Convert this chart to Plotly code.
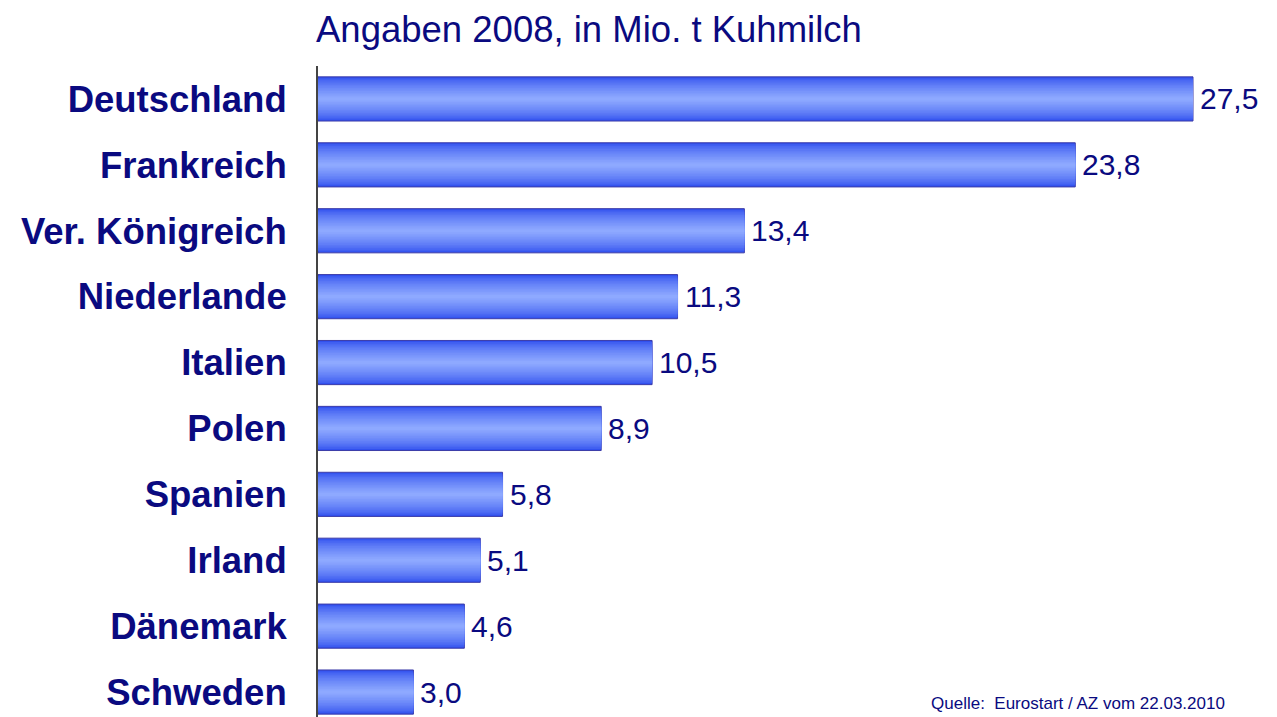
import plotly.graph_objects as go

countries = ["Deutschland", "Frankreich", "Ver. Königreich", "Niederlande", "Italien",
             "Polen", "Spanien", "Irland", "Dänemark", "Schweden"]
values = [27.5, 23.8, 13.4, 11.3, 10.5, 8.9, 5.8, 5.1, 4.6, 3.0]
title_text = "Angaben 2008, in Mio. t Kuhmilch"
source_text = "Quelle:  Eurostart / AZ vom 22.03.2010"

NAVY = "#0a0a80"
OFF = 8  # page body margin in browser
W, H = 1277 - OFF, 717 - OFF
ML, MR, MT, MB = 318 - OFF, 20, 66 - OFF, 0
px_per_unit = (1193 - 318) / 27.5
bar_width = 0.67

def lerp(c1, c2, t):
    a = [int(c1[i:i + 2], 16) for i in (1, 3, 5)]
    b = [int(c2[i:i + 2], 16) for i in (1, 3, 5)]
    return "#" + "".join(f"{round(x + (y - x) * t):02x}" for x, y in zip(a, b))

edge, center = "#3150ee", "#8ea9ff"
fig = go.Figure()
N = 14
for k in range(N):
    t = k / (N - 1)
    w = bar_width * (1 - k / N)
    fig.add_trace(go.Bar(
        x=values, y=list(range(len(countries))), orientation="h",
        width=w,
        marker=dict(color=lerp(edge, center, t ** 0.7),
                    line=dict(color="#3c3ca8" if k == 0 else "rgba(0,0,0,0)", width=1 if k == 0 else 0)),
        hoverinfo="skip", showlegend=False,
    ))

for i, v in enumerate(values):
    fig.add_annotation(x=v, y=i, xref="x", yref="y", text=f"{v:.1f}".replace(".", ","),
                       showarrow=False, xanchor="left", xshift=5,
                       font=dict(family="Liberation Sans", size=30, color=NAVY))

plot_w = W - ML - MR
plot_h = H - MT - MB

fig.add_annotation(x=0, y=1, xref="paper", yref="paper", text=title_text, showarrow=False,
                   xanchor="left", yanchor="middle", xshift=-4, yshift=66 - 29,
                   font=dict(family="Liberation Sans", size=36.5, color=NAVY))

fig.add_annotation(x=(1227 - 318) / plot_w, y=(717 - 703) / plot_h, xref="paper", yref="paper",
                   text=source_text, showarrow=False, xanchor="right", yanchor="middle",
                   font=dict(family="Liberation Sans", size=17, color=NAVY))

y_lo = -0.5
y_hi = y_lo + plot_h / 65.9
fig.update_layout(
    width=W, height=H, barmode="overlay",
    margin=dict(l=ML, r=MR, t=MT, b=MB),
    paper_bgcolor="white", plot_bgcolor="white",
    xaxis=dict(range=[0, plot_w / px_per_unit], visible=False, fixedrange=True),
    yaxis=dict(range=[y_hi, y_lo], tickmode="array", tickvals=list(range(len(countries))),
               ticktext=countries, showgrid=False, zeroline=False,
               showline=True, linecolor="#444444", linewidth=2, ticks="",
               ticklabelstandoff=22,
               tickfont=dict(family="Liberation Sans", size=36.5, color=NAVY, weight="bold")),
    hovermode=False,
)
fig.write_html("out.html")
